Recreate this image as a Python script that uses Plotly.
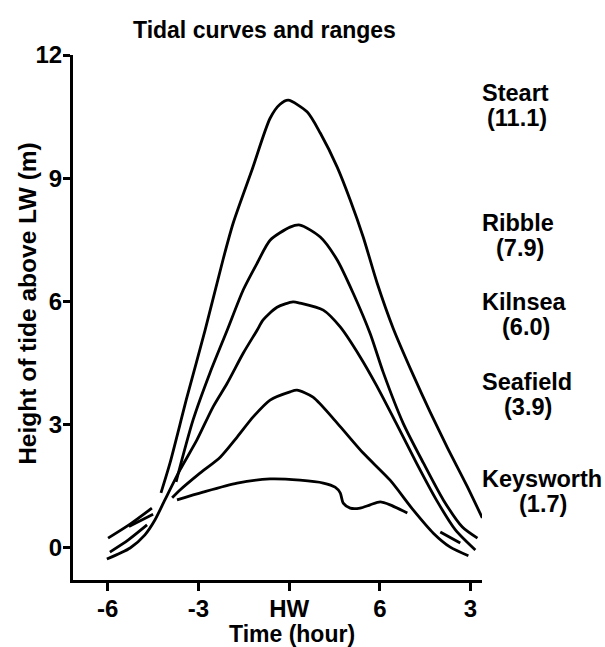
import plotly.graph_objects as go

# ---- data ----
tick_vals = [-6, -3, 0, 3, 6]
tick_text = ["-6", "-3", "HW", "6", "3"]
y_ticks = [0, 3, 6, 9, 12]

steart_t = [-4.24, -3.94, -3.38, -2.78, -2.19, -1.85, -1.23, -0.63, -0.30, -0.03,
            0.60, 1.03, 1.59, 2.02, 2.45, 2.91, 3.44, 4.11, 4.67, 5.23, 5.89, 6.39]
steart_h = [1.34, 2.07, 3.67, 5.30, 7.01, 7.91, 9.20, 10.46, 10.80, 10.90,
            10.61, 10.10, 9.27, 8.47, 7.57, 6.45, 5.35, 4.20, 3.30, 2.45, 1.50, 0.73]

ribble_t = [-3.74, -3.18, -2.62, -2.05, -1.52, -1.06, -0.63, 0.03, 0.36, 1.03, 1.59,
            2.12, 2.68, 3.11, 3.77, 4.44, 5.10, 5.73, 6.23]
ribble_h = [1.61, 3.11, 4.26, 5.30, 6.28, 6.93, 7.49, 7.81, 7.86, 7.57, 7.01,
            6.20, 5.22, 4.28, 3.04, 2.07, 1.17, 0.51, 0.24]

kilnsea_t = [-6.03, -5.26, -4.77, -4.44, -4.11, -3.61, -3.05, -2.52, -2.05, -1.52, -1.06, -0.86,
             -0.40, 0.13, 0.36, 1.13, 1.69, 2.35, 2.88, 3.54, 4.21, 4.87, 5.50, 6.16]
kilnsea_h = [-0.27, 0.00, 0.32, 0.68, 1.17, 1.90, 2.63, 3.43, 4.01, 4.74, 5.30, 5.55,
             5.86, 5.99, 5.96, 5.79, 5.38, 4.65, 3.97, 3.04, 2.07, 1.17, 0.44, -0.05]

seafield_t = [-3.87, -3.61, -2.95, -2.28, -1.72, -1.19, -0.63, 0.03, 0.26, 0.79, 1.59, 2.45,
              3.34, 4.11, 4.77, 5.33, 5.93]
seafield_h = [1.22, 1.41, 1.82, 2.21, 2.70, 3.19, 3.60, 3.80, 3.84, 3.67, 3.04, 2.31,
              1.65, 0.92, 0.36, 0.02, -0.19]

keysworth_t = [-3.71, -2.85, -1.72, -0.63, 0.36, 1.13, 1.52, 1.69, 1.79, 2.02, 2.35, 2.68,
               3.01, 3.34, 3.91]
keysworth_h = [1.17, 1.36, 1.58, 1.68, 1.65, 1.58, 1.48, 1.34, 1.09, 0.97, 0.97, 1.05,
               1.12, 1.05, 0.85]

# short stray pen strokes near low water
stroke1_t = [-5.99, -5.26, -4.54]
stroke1_h = [0.24, 0.58, 0.97]
stroke2_t = [-5.30, -4.50]
stroke2_h = [0.52, 0.82]
stroke3_t = [-5.93, -5.33, -4.70]
stroke3_h = [-0.10, 0.19, 0.56]
stroke4_t = [5.00, 5.66]
stroke4_h = [0.39, 0.12]

site_names = ["Steart", "Ribble", "Kilnsea", "Seafield", "Keysworth"]
site_ranges = ["(11.1)", "(7.9)", "(6.0)", "(3.9)", "(1.7)"]
name_y = [11.07, 7.91, 5.99, 4.04, 1.68]
range_y = [10.46, 7.30, 5.38, 3.43, 1.07]
range_xshift = [35, 38, 44, 46, 61]

FONT = "Liberation Sans, Arial, Helvetica, sans-serif"


def f(size):
    return dict(size=size, color="black", family=FONT, weight="bold")


fig = go.Figure()
curves = [(steart_t, steart_h), (ribble_t, ribble_h), (kilnsea_t, kilnsea_h),
          (seafield_t, seafield_h), (keysworth_t, keysworth_h),
          (stroke1_t, stroke1_h), (stroke2_t, stroke2_h), (stroke3_t, stroke3_h),
          (stroke4_t, stroke4_h)]
for t, h in curves:
    fig.add_trace(go.Scatter(x=t, y=h, mode="lines",
                             line=dict(color="black", width=2.8, shape="spline", smoothing=0.7),
                             showlegend=False, hoverinfo="skip"))

annotations = []
for n, r, ny, ry, xs in zip(site_names, site_ranges, name_y, range_y, range_xshift):
    annotations.append(dict(text=n, x=1, xref="paper", xshift=-2, y=ny, yref="y", xanchor="left",
                            yanchor="middle", showarrow=False, font=f(23.5)))
    annotations.append(dict(text=r, x=1, xref="paper", y=ry, yref="y", xanchor="center",
                            xshift=xs, yanchor="middle", showarrow=False, font=f(23.5)))

annotations.append(dict(text="Tidal curves and ranges", x=-0.83, xref="x", y=1, yref="paper",
                        yshift=25, xanchor="center", yanchor="middle", showarrow=False,
                        font=f(23)))
annotations.append(dict(text="Time (hour)", x=0.1, xref="x", y=0, yref="paper", yshift=-54,
                        xanchor="center", yanchor="middle", showarrow=False, borderpad=0,
                        font=f(23)))
annotations.append(dict(text="Height of tide above LW (m)", x=0, xref="paper", xshift=-45,
                        y=0.526, yref="paper", xanchor="center", yanchor="middle",
                        textangle=-90, showarrow=False, font=f(24.5)))

fig.update_layout(
    width=605, height=647,
    margin=dict(l=73, r=123, t=55, b=67),
    paper_bgcolor="white", plot_bgcolor="white",
    font=dict(family=FONT, size=24, color="black"),
    annotations=annotations,
    showlegend=False,
)
fig.update_xaxes(range=[-7.15, 6.38], tickvals=tick_vals, ticktext=tick_text,
                 showgrid=False, zeroline=False, showline=True, linecolor="black", linewidth=3,
                 ticks="outside", ticklen=8, tickwidth=3, tickcolor="black",
                 ticklabelstandoff=-3, tickfont=f(24))
fig.update_yaxes(range=[-0.78, 12], tickvals=y_ticks,
                 showgrid=False, zeroline=False, showline=True, linecolor="black", linewidth=3,
                 ticks="outside", ticklen=7, tickwidth=3, tickcolor="black",
                 ticklabelstandoff=-4, tickfont=f(24))

fig.write_html("out.html")
